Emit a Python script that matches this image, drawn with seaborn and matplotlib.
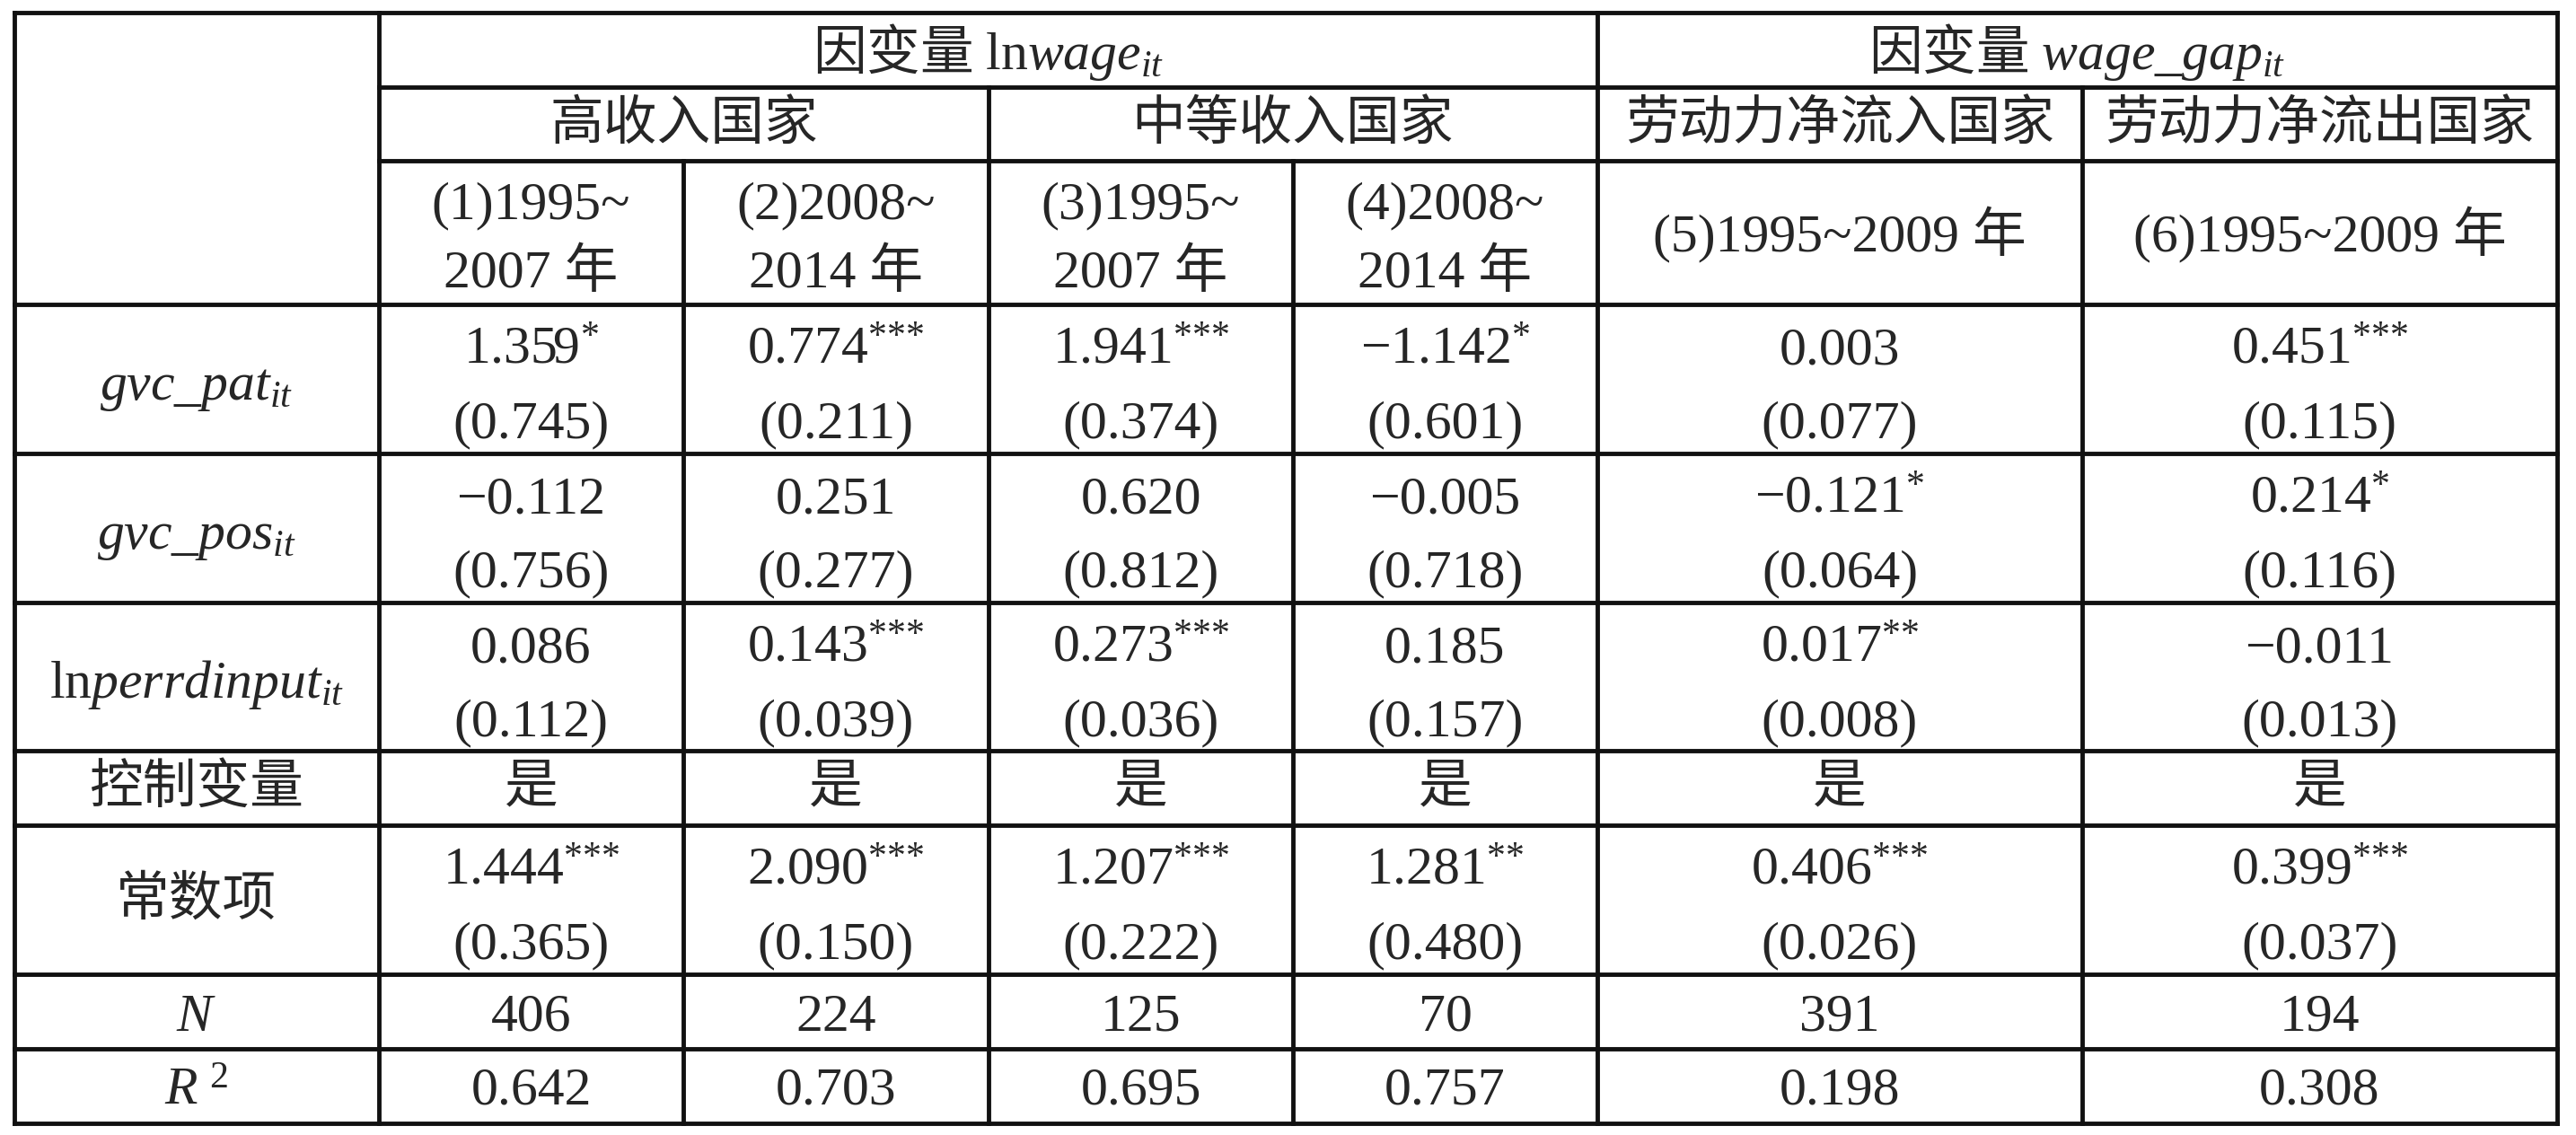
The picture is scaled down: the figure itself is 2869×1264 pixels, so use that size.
import numpy as np
import matplotlib.pyplot as plt
import seaborn as sns

# header texts
dep_titles = [r'因变量 $\mathrm{ln}\mathit{wage}_{it}$', r'因变量 $\mathit{wage\_gap}_{it}$']
groups = ['高收入国家', '中等收入国家', '劳动力净流入国家', '劳动力净流出国家']
periods = [['(1)1995~', '2007 年'], ['(2)2008~', '2014 年'],
           ['(3)1995~', '2007 年'], ['(4)2008~', '2014 年'],
           ['(5)1995~2009 年'], ['(6)1995~2009 年']]

# regression results, one entry per column (1)-(6)
var_labels = [r'$\mathit{gvc\_pat}_{it}$', r'$\mathit{gvc\_pos}_{it}$',
              r'$\mathrm{ln}\mathit{perrdinput}_{it}$']
coef_pat = [1.359, 0.774, 1.941, -1.142, 0.003, 0.451]
star_pat = ['*', '***', '***', '*', '', '***']
se_pat = [0.745, 0.211, 0.374, 0.601, 0.077, 0.115]
coef_pos = [-0.112, 0.251, 0.620, -0.005, -0.121, 0.214]
star_pos = ['', '', '', '', '*', '*']
se_pos = [0.756, 0.277, 0.812, 0.718, 0.064, 0.116]
coef_rd = [0.086, 0.143, 0.273, 0.185, 0.017, -0.011]
star_rd = ['', '***', '***', '', '**', '']
se_rd = [0.112, 0.039, 0.036, 0.157, 0.008, 0.013]
controls = ['是', '是', '是', '是', '是', '是']
coef_const = [1.444, 2.090, 1.207, 1.281, 0.406, 0.399]
star_const = ['***', '***', '***', '**', '***', '***']
se_const = [0.365, 0.150, 0.222, 0.480, 0.026, 0.037]
n_obs = [406, 224, 125, 70, 391, 194]
r2 = [0.642, 0.703, 0.695, 0.757, 0.198, 0.308]

sns.set_theme(style='white')
plt.rcParams['mathtext.fontset'] = 'custom'
plt.rcParams['mathtext.rm'] = 'Liberation Serif'
plt.rcParams['mathtext.it'] = 'Liberation Serif:italic'
plt.rcParams['mathtext.bf'] = 'Liberation Serif:bold'

LAT = ['Liberation Serif', 'Noto Sans CJK SC']
CJK = 'Noto Sans CJK SC'
FS = 43
LW = 3.5

# table grid in pixel units
xs = [16, 422, 761, 1101, 1440, 1779, 2319, 2848]
ys = [14, 97, 179, 339, 505, 671, 836, 919, 1085, 1168, 1251]

fig = plt.figure(figsize=(28.69, 12.64), dpi=100)
ax = fig.add_axes([0, 0, 1, 1])
ax.set_xlim(0, 2869)
ax.set_ylim(1264, 0)
ax.axis('off')

def fmt(v):
    return f'{v:.3f}'.replace('-', '\u2212')

def stars(s):
    # braces keep mathtext from spacing the asterisks as operators
    return '$^{' + ''.join('{*}' for _ in s) + '}$' if s else ''

def hline(y, x0, x1):
    ax.plot([x0, x1], [y, y], color='#111111', lw=LW, solid_capstyle='projecting')

def vline(x, y0, y1):
    ax.plot([x, x], [y0, y1], color='#111111', lw=LW, solid_capstyle='projecting')

# grid lines
hline(ys[0], xs[0], xs[-1])
hline(ys[1], xs[1], xs[-1])
hline(ys[2], xs[1], xs[-1])
for y in ys[3:]:
    hline(y, xs[0], xs[-1])
for x in [xs[0], xs[1], xs[5], xs[-1]]:
    vline(x, ys[0], ys[-1])
for x in [xs[3], xs[6]]:
    vline(x, ys[1], ys[-1])
for x in [xs[2], xs[4]]:
    vline(x, ys[2], ys[-1])

def cx(i0, i1):
    return (xs[i0] + xs[i1]) / 2

# header row 1
ax.text(cx(1, 5), (ys[0] + ys[1]) / 2 + 2, dep_titles[0], family=CJK, fontsize=FS,
        ha='center', va='center')
ax.text(cx(5, 7), (ys[0] + ys[1]) / 2 + 2, dep_titles[1], family=CJK, fontsize=FS,
        ha='center', va='center')
# header row 2
for (i0, i1), g in zip([(1, 3), (3, 5), (5, 6), (6, 7)], groups):
    ax.text(cx(i0, i1), (ys[1] + ys[2]) / 2, g, family=CJK, fontsize=FS,
            ha='center', va='center')
# header row 3
for j, p in enumerate(periods):
    if len(p) == 2:
        ax.text(cx(j + 1, j + 2), ys[2] + 64, p[0], family=LAT, fontsize=FS,
                ha='center', va='baseline')
        ax.text(cx(j + 1, j + 2), ys[2] + 141, p[1], family=LAT, fontsize=FS,
                ha='center', va='baseline')
    else:
        ax.text(cx(j + 1, j + 2), ys[2] + 101, p[0], family=LAT, fontsize=FS,
                ha='center', va='baseline')

def coef_row(top, coefs, stars_, ses):
    for j in range(6):
        s = fmt(coefs[j]) + stars(stars_[j])
        ax.text(cx(j + 1, j + 2), top + 66, s, family=LAT, fontsize=FS,
                ha='center', va='baseline')
        ax.text(cx(j + 1, j + 2), top + 148, '(' + fmt(ses[j]) + ')', family=LAT,
                fontsize=FS, ha='center', va='baseline')

# variable rows
for k, (lab, c, st, se) in enumerate(zip(var_labels, [coef_pat, coef_pos, coef_rd],
                                          [star_pat, star_pos, star_rd],
                                          [se_pat, se_pos, se_rd])):
    top = ys[3 + k]
    ax.text(cx(0, 1), top + 106, lab, family=LAT, fontsize=FS, ha='center', va='baseline')
    coef_row(top, c, st, se)

# controls
ax.text(cx(0, 1), (ys[6] + ys[7]) / 2, '控制变量', family=CJK, fontsize=FS,
        ha='center', va='center')
for j, v in enumerate(controls):
    ax.text(cx(j + 1, j + 2), (ys[6] + ys[7]) / 2, v, family=CJK, fontsize=FS,
            ha='center', va='center')

# constant
ax.text(cx(0, 1), (ys[7] + ys[8]) / 2, '常数项', family=CJK, fontsize=FS,
        ha='center', va='center')
coef_row(ys[7], coef_const, star_const, se_const)

# N and R2
ax.text(cx(0, 1), ys[8] + 63, r'$N$', family=LAT, fontsize=FS, ha='center', va='baseline')
ax.text(cx(0, 1), ys[9] + 62, r'$R^{\ 2}$', family=LAT, fontsize=FS, ha='center', va='baseline')
for j in range(6):
    ax.text(cx(j + 1, j + 2), ys[8] + 63, str(n_obs[j]), family=LAT, fontsize=FS,
            ha='center', va='baseline')
    ax.text(cx(j + 1, j + 2), ys[9] + 62, fmt(r2[j]), family=LAT, fontsize=FS,
            ha='center', va='baseline')

fig.savefig('out.png', dpi=100, facecolor='white')
